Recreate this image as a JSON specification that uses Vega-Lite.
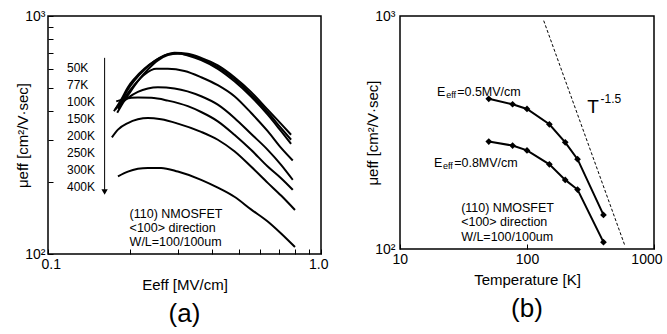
{
  "$schema": "https://vega.github.io/schema/vega-lite/v6.json",
  "background": "white",
  "padding": {"left": 15, "top": 8, "right": 5, "bottom": 5},
  "bounds": "flush",
  "spacing": 79,
  "config": {
    "font": "Liberation Sans",
    "view": {"stroke": "black", "strokeWidth": 1.5},
    "axis": {
      "domain": false, "grid": false,
      "labelFont": "Liberation Sans", "labelFontSize": 14, "labelColor": "black",
      "titleFont": "Liberation Sans", "titleFontSize": 15, "titleFontWeight": "normal", "titleColor": "black",
      "tickColor": "black", "tickSize": -5, "tickWidth": 1, "labelPadding": 8
    },
    "title": {"font": "Liberation Sans", "fontSize": 26, "fontWeight": "normal", "color": "black"}
  },
  "datasets": {
    "curves": [
      {"T": "50K", "E": 0.1744, "mu": 398}, {"T": "50K", "E": 0.1855, "mu": 446}, {"T": "50K", "E": 0.1962, "mu": 502}, {"T": "50K", "E": 0.2075, "mu": 546}, {"T": "50K", "E": 0.2258, "mu": 602}, {"T": "50K", "E": 0.2456, "mu": 646}, {"T": "50K", "E": 0.2672, "mu": 683}, {"T": "50K", "E": 0.2907, "mu": 701}, {"T": "50K", "E": 0.3252, "mu": 694}, {"T": "50K", "E": 0.3639, "mu": 667}, {"T": "50K", "E": 0.4188, "mu": 620}, {"T": "50K", "E": 0.4818, "mu": 553}, {"T": "50K", "E": 0.5541, "mu": 480}, {"T": "50K", "E": 0.638, "mu": 404}, {"T": "50K", "E": 0.7142, "mu": 352}, {"T": "50K", "E": 0.777, "mu": 317},
      {"T": "77K", "E": 0.1763, "mu": 404}, {"T": "77K", "E": 0.1855, "mu": 438}, {"T": "77K", "E": 0.1962, "mu": 491}, {"T": "77K", "E": 0.2075, "mu": 536}, {"T": "77K", "E": 0.2258, "mu": 596}, {"T": "77K", "E": 0.2456, "mu": 646}, {"T": "77K", "E": 0.2672, "mu": 683}, {"T": "77K", "E": 0.2907, "mu": 696}, {"T": "77K", "E": 0.3252, "mu": 687}, {"T": "77K", "E": 0.3639, "mu": 659}, {"T": "77K", "E": 0.4188, "mu": 610}, {"T": "77K", "E": 0.4818, "mu": 543}, {"T": "77K", "E": 0.5541, "mu": 469}, {"T": "77K", "E": 0.638, "mu": 394}, {"T": "77K", "E": 0.7142, "mu": 338}, {"T": "77K", "E": 0.777, "mu": 302},
      {"T": "100K", "E": 0.1793, "mu": 392}, {"T": "100K", "E": 0.1881, "mu": 431}, {"T": "100K", "E": 0.199, "mu": 475}, {"T": "100K", "E": 0.2134, "mu": 532}, {"T": "100K", "E": 0.2322, "mu": 596}, {"T": "100K", "E": 0.2526, "mu": 651}, {"T": "100K", "E": 0.2748, "mu": 685}, {"T": "100K", "E": 0.2989, "mu": 696}, {"T": "100K", "E": 0.3252, "mu": 683}, {"T": "100K", "E": 0.3639, "mu": 653}, {"T": "100K", "E": 0.4188, "mu": 600}, {"T": "100K", "E": 0.4818, "mu": 532}, {"T": "100K", "E": 0.5541, "mu": 459}, {"T": "100K", "E": 0.638, "mu": 385}, {"T": "100K", "E": 0.7142, "mu": 328}, {"T": "100K", "E": 0.777, "mu": 290},
      {"T": "150K", "E": 0.1804, "mu": 408}, {"T": "150K", "E": 0.1908, "mu": 453}, {"T": "150K", "E": 0.2075, "mu": 515}, {"T": "150K", "E": 0.2258, "mu": 568}, {"T": "150K", "E": 0.2491, "mu": 600}, {"T": "150K", "E": 0.2748, "mu": 600}, {"T": "150K", "E": 0.3162, "mu": 587}, {"T": "150K", "E": 0.3639, "mu": 553}, {"T": "150K", "E": 0.4188, "mu": 512}, {"T": "150K", "E": 0.4818, "mu": 460}, {"T": "150K", "E": 0.5541, "mu": 392}, {"T": "150K", "E": 0.638, "mu": 328}, {"T": "150K", "E": 0.7142, "mu": 279}, {"T": "150K", "E": 0.788, "mu": 247},
      {"T": "200K", "E": 0.1829, "mu": 424}, {"T": "200K", "E": 0.1962, "mu": 453}, {"T": "200K", "E": 0.2134, "mu": 480}, {"T": "200K", "E": 0.2322, "mu": 496}, {"T": "200K", "E": 0.2526, "mu": 502}, {"T": "200K", "E": 0.2907, "mu": 496}, {"T": "200K", "E": 0.3639, "mu": 460}, {"T": "200K", "E": 0.4188, "mu": 424}, {"T": "200K", "E": 0.4818, "mu": 373}, {"T": "200K", "E": 0.5541, "mu": 320}, {"T": "200K", "E": 0.638, "mu": 274}, {"T": "200K", "E": 0.7142, "mu": 237}, {"T": "200K", "E": 0.788, "mu": 205},
      {"T": "250K", "E": 0.1778, "mu": 438}, {"T": "250K", "E": 0.1908, "mu": 448}, {"T": "250K", "E": 0.2134, "mu": 454}, {"T": "250K", "E": 0.2388, "mu": 453}, {"T": "250K", "E": 0.2748, "mu": 441}, {"T": "250K", "E": 0.3252, "mu": 418}, {"T": "250K", "E": 0.3639, "mu": 395}, {"T": "250K", "E": 0.4188, "mu": 361}, {"T": "250K", "E": 0.4818, "mu": 317}, {"T": "250K", "E": 0.5541, "mu": 274}, {"T": "250K", "E": 0.638, "mu": 233}, {"T": "250K", "E": 0.7142, "mu": 208}, {"T": "250K", "E": 0.788, "mu": 186},
      {"T": "300K", "E": 0.1714, "mu": 309}, {"T": "300K", "E": 0.1804, "mu": 333}, {"T": "300K", "E": 0.1962, "mu": 355}, {"T": "300K", "E": 0.2134, "mu": 368}, {"T": "300K", "E": 0.2322, "mu": 373}, {"T": "300K", "E": 0.2597, "mu": 368}, {"T": "300K", "E": 0.2989, "mu": 353}, {"T": "300K", "E": 0.3639, "mu": 326}, {"T": "300K", "E": 0.4188, "mu": 302}, {"T": "300K", "E": 0.4818, "mu": 270}, {"T": "300K", "E": 0.5541, "mu": 233}, {"T": "300K", "E": 0.638, "mu": 199}, {"T": "300K", "E": 0.7142, "mu": 176}, {"T": "300K", "E": 0.803, "mu": 153},
      {"T": "400K", "E": 0.1804, "mu": 212}, {"T": "400K", "E": 0.1962, "mu": 222}, {"T": "400K", "E": 0.2134, "mu": 228}, {"T": "400K", "E": 0.2322, "mu": 230}, {"T": "400K", "E": 0.2597, "mu": 230}, {"T": "400K", "E": 0.2989, "mu": 222}, {"T": "400K", "E": 0.3639, "mu": 205}, {"T": "400K", "E": 0.4188, "mu": 190}, {"T": "400K", "E": 0.4818, "mu": 174}, {"T": "400K", "E": 0.5541, "mu": 154}, {"T": "400K", "E": 0.638, "mu": 137}, {"T": "400K", "E": 0.7142, "mu": 122}, {"T": "400K", "E": 0.803, "mu": 107}
    ],
    "tempLabels": [
      {"label": "50K", "E": 0.1174, "mu": 606}, {"label": "77K", "E": 0.1174, "mu": 515}, {"label": "100K", "E": 0.1174, "mu": 435}, {"label": "150K", "E": 0.1174, "mu": 370},
      {"label": "200K", "E": 0.1174, "mu": 312}, {"label": "250K", "E": 0.1174, "mu": 265}, {"label": "300K", "E": 0.1174, "mu": 226}, {"label": "400K", "E": 0.1174, "mu": 191}
    ],
    "arrow": [{"E": 0.1612, "mu": 667, "mu2": 186}],
    "arrowHead": [{"E": 0.1612, "mu": 182}],
    "notesA": [
      {"text": "(110) NMOSFET", "E": 0.199, "mu": 147.4}, {"text": "<100> direction", "E": 0.199, "mu": 128.3}, {"text": "W/L=100/100um", "E": 0.199, "mu": 112.0}
    ],
    "tempSeries": [
      {"field": "0.5", "Temp": 50, "mu": 441}, {"field": "0.5", "Temp": 77, "mu": 418}, {"field": "0.5", "Temp": 100, "mu": 399}, {"field": "0.5", "Temp": 150, "mu": 343}, {"field": "0.5", "Temp": 200, "mu": 287}, {"field": "0.5", "Temp": 250, "mu": 243}, {"field": "0.5", "Temp": 400, "mu": 140},
      {"field": "0.8", "Temp": 50, "mu": 289}, {"field": "0.8", "Temp": 77, "mu": 278}, {"field": "0.8", "Temp": 100, "mu": 265}, {"field": "0.8", "Temp": 150, "mu": 231}, {"field": "0.8", "Temp": 200, "mu": 198}, {"field": "0.8", "Temp": 250, "mu": 180}, {"field": "0.8", "Temp": 400, "mu": 107}
    ],
    "powerLaw": [{"Temp": 135.4, "mu": 955}, {"Temp": 590, "mu": 103.3}],
    "labelMain": [
      {"text": "E", "Temp": 19.6, "mu": 474}, {"text": "=0.5MV/cm", "Temp": 28.2, "mu": 474},
      {"text": "E", "Temp": 18.5, "mu": 234}, {"text": "=0.8MV/cm", "Temp": 26.7, "mu": 234}
    ],
    "labelSub": [
      {"text": "eff", "Temp": 23.1, "mu": 459}, {"text": "eff", "Temp": 21.8, "mu": 227}
    ],
    "notesB": [
      {"text": "(110) NMOSFET", "Temp": 30.3, "mu": 150}, {"text": "<100> direction", "Temp": 30.3, "mu": 130}, {"text": "W/L=100/100um", "Temp": 30.3, "mu": 113}
    ],
    "tLabel": [{"text": "T", "Temp": 297.7, "mu": 406}],
    "tExp": [{"text": "-1.5", "Temp": 379, "mu": 440}]
  },
  "hconcat": [
    {
      "width": 273,
      "height": 238,
      "title": {"text": "(a)", "orient": "bottom", "anchor": "middle", "offset": 9},
      "encoding": {
        "x": {"field": "E", "type": "quantitative", "scale": {"type": "log", "domain": [0.1, 1], "nice": false},
          "axis": {"title": "Eeff [MV/cm]", "titlePadding": 6, "values": [0.1, 0.2, 0.3, 0.4, 0.5, 0.6, 0.7, 0.8, 0.9, 1],
            "labelExpr": "datum.value < 0.15 ? '0.1' : (datum.value > 0.95 ? '1.0' : '')", "labelFlush": true, "labelFlushOffset": 7, "labelOverlap": false}},
        "y": {"field": "mu", "type": "quantitative", "scale": {"type": "log", "domain": [100, 1000], "nice": false},
          "axis": {"title": "μeff [cm²/V·sec]", "values": [100, 200, 300, 400, 500, 600, 700, 800, 900, 1000],
            "labelExpr": "datum.value < 150 ? '10²' : (datum.value > 950 ? '10³' : '')", "labelOverlap": false, "labelFlush": false, "titlePadding": -6}}
      },
      "layer": [
        {"data": {"name": "curves"}, "mark": {"type": "line", "color": "black", "strokeWidth": 2, "interpolate": "monotone"},
          "encoding": {"detail": {"field": "T"}}},
        {"data": {"name": "tempLabels"}, "mark": {"type": "text", "align": "left", "baseline": "middle", "fontSize": 12, "color": "black"},
          "encoding": {"text": {"field": "label"}}},
        {"data": {"name": "arrow"}, "mark": {"type": "rule", "color": "black", "strokeWidth": 1},
          "encoding": {"y2": {"field": "mu2"}}},
        {"data": {"name": "arrowHead"}, "mark": {"type": "point", "shape": "triangle-down", "filled": true, "color": "black", "size": 40, "opacity": 1}},
        {"data": {"name": "notesA"}, "mark": {"type": "text", "align": "left", "baseline": "middle", "fontSize": 12.5, "color": "black"},
          "encoding": {"text": {"field": "text"}}}
      ]
    },
    {
      "width": 254,
      "height": 233,
      "title": {"text": "(b)", "orient": "bottom", "anchor": "middle", "offset": 9},
      "encoding": {
        "x": {"field": "Temp", "type": "quantitative", "scale": {"type": "log", "domain": [10, 1000], "nice": false},
          "axis": {"title": "Temperature [K]", "titlePadding": 6, "values": [10, 100, 1000], "format": "d", "labelFlush": true, "labelFlushOffset": 8, "labelOverlap": false}},
        "y": {"field": "mu", "type": "quantitative", "scale": {"type": "log", "domain": [100, 1000], "nice": false},
          "axis": {"title": "μeff [cm²/V·sec]", "values": [100, 1000], "ticks": false, "labelPadding": 5,
            "labelExpr": "datum.value < 150 ? '10²' : '10³'", "labelOverlap": false, "labelFlush": false, "titlePadding": -6}}
      },
      "layer": [
        {"data": {"name": "powerLaw"}, "mark": {"type": "line", "color": "black", "strokeWidth": 1, "strokeDash": [3, 2]}, "encoding": {}},
        {"data": {"name": "tempSeries"}, "mark": {"type": "line", "color": "black", "strokeWidth": 2},
          "encoding": {"detail": {"field": "field"}}},
        {"data": {"name": "tempSeries"}, "mark": {"type": "point", "shape": "diamond", "filled": true, "color": "black", "size": 45, "opacity": 1},
          "encoding": {"detail": {"field": "field"}}},
        {"data": {"name": "labelMain"}, "mark": {"type": "text", "align": "left", "baseline": "middle", "fontSize": 12.5, "color": "black"},
          "encoding": {"text": {"field": "text"}}},
        {"data": {"name": "labelSub"}, "mark": {"type": "text", "align": "left", "baseline": "middle", "fontSize": 9, "color": "black"},
          "encoding": {"text": {"field": "text"}}},
        {"data": {"name": "notesB"}, "mark": {"type": "text", "align": "left", "baseline": "middle", "fontSize": 12.5, "color": "black"},
          "encoding": {"text": {"field": "text"}}},
        {"data": {"name": "tLabel"}, "mark": {"type": "text", "align": "left", "baseline": "middle", "fontSize": 19, "color": "black"},
          "encoding": {"text": {"field": "text"}}},
        {"data": {"name": "tExp"}, "mark": {"type": "text", "align": "left", "baseline": "middle", "fontSize": 12, "color": "black"},
          "encoding": {"text": {"field": "text"}}}
      ]
    }
  ]
}
